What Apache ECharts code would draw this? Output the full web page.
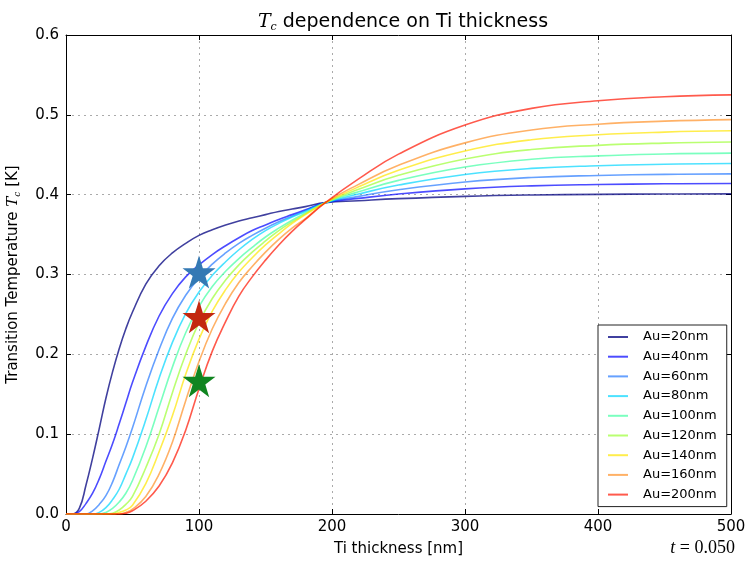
<!DOCTYPE html>
<html>
<head>
<meta charset="utf-8">
<script src="https://cdn.jsdelivr.net/npm/echarts@6/dist/echarts.min.js"></script>
<style>
html,body{margin:0;padding:0;background:#fff;}
#chart{width:745px;height:561px;}
</style>
</head>
<body>
<div id="chart"></div>
<script>
// Ti thickness grid [nm]
const thickness = [0,5,10,15,20,25,30,35,40,45,50,60,70,80,90,100,110,120,130,140,150,160,170,180,195,220,250,300,350,400,450,500];

// Tc [K] for each Au thickness
const au20  = [0,0,0.007,0.036,0.07,0.107,0.145,0.178,0.207,0.232,0.253,0.288,0.311,0.327,0.339,0.349,0.356,0.362,0.367,0.371,0.375,0.379,0.382,0.385,0.39,0.3924,0.395,0.3979,0.3996,0.4004,0.4008,0.401];
const au40  = [0,0,0.003,0.013,0.026,0.044,0.066,0.088,0.113,0.139,0.165,0.21,0.248,0.276,0.297,0.312,0.325,0.336,0.346,0.355,0.362,0.369,0.375,0.381,0.39,0.3953,0.4008,0.4073,0.411,0.4127,0.4136,0.414];
const au60  = [0,0,0,0,0.004,0.012,0.023,0.04,0.062,0.084,0.108,0.16,0.206,0.245,0.274,0.296,0.313,0.327,0.339,0.349,0.358,0.366,0.373,0.38,0.39,0.3979,0.4062,0.4159,0.4215,0.424,0.4254,0.426];
const au80  = [0,0,0,0,0,0.002,0.008,0.018,0.031,0.05,0.07,0.118,0.17,0.215,0.251,0.278,0.299,0.316,0.331,0.344,0.355,0.364,0.372,0.379,0.39,0.4008,0.412,0.4253,0.4329,0.4363,0.4381,0.439];
const au100 = [0,0,0,0,0,0,0.002,0.007,0.015,0.026,0.042,0.084,0.134,0.184,0.227,0.26,0.285,0.304,0.32,0.334,0.347,0.358,0.368,0.377,0.39,0.4036,0.4179,0.4346,0.4443,0.4486,0.4509,0.452];
const au120 = [0,0,0,0,0,0,0,0.001,0.005,0.012,0.022,0.058,0.1,0.152,0.2,0.24,0.27,0.293,0.312,0.328,0.342,0.355,0.366,0.376,0.39,0.4067,0.4242,0.4447,0.4565,0.4618,0.4646,0.466];
const au140 = [0,0,0,0,0,0,0,0,0.002,0.005,0.011,0.038,0.078,0.123,0.175,0.219,0.254,0.281,0.303,0.321,0.337,0.351,0.364,0.375,0.39,0.4098,0.4305,0.4548,0.4688,0.4751,0.4784,0.48];
const au160 = [0,0,0,0,0,0,0,0,0,0.002,0.006,0.022,0.05,0.09,0.142,0.191,0.232,0.264,0.29,0.31,0.328,0.344,0.358,0.37,0.39,0.4129,0.4368,0.4649,0.481,0.4883,0.4921,0.494];
const au200 = [0,0,0,0,0,0,0,0,0,0.001,0.004,0.016,0.035,0.064,0.105,0.157,0.204,0.241,0.273,0.297,0.318,0.337,0.354,0.369,0.39,0.4197,0.4508,0.4872,0.5081,0.5176,0.5226,0.525];

const seriesNames = ['Au=20nm','Au=40nm','Au=60nm','Au=80nm','Au=100nm','Au=120nm','Au=140nm','Au=160nm','Au=200nm'];
const seriesValues = [au20,au40,au60,au80,au100,au120,au140,au160,au200];
const seriesColors = ['rgba(0,0,127,0.75)','rgba(0,0,255,0.7)','rgba(0,99,255,0.6)','rgba(0,213,255,0.7)','rgba(77,255,169,0.75)','rgba(169,255,77,0.8)','rgba(255,229,0,0.7)','rgba(255,125,0,0.6)','rgba(255,20,0,0.7)'];

// star markers
const starX = [100,100,100];
const starY = [0.303,0.247,0.167];
const starColors = ['#3479b4','#c3280f','#108520'];

const xTicks = [0,100,200,300,400,500];
const yTicks = [0.0,0.1,0.2,0.3,0.4,0.5,0.6];

const FONT = 'DejaVu Sans';
const starPath = 'path://M50,0 L61.2,34.5 L97.6,34.5 L68.2,55.9 L79.4,90.5 L50,69.1 L20.6,90.5 L31.8,55.9 L2.4,34.5 L38.8,34.5 Z';

const lineSeries = seriesNames.map((name,i)=>({
  name: name,
  type: 'line',
  data: thickness.map((x,j)=>[x, seriesValues[i][j]]),
  showSymbol: false,
  symbol: 'none',
  smooth: 0.45,
  color: seriesColors[i],
  lineStyle: {width: 1.6, color: seriesColors[i]},
  z: 2 + i,
  animation: false
}));

const starSeries = starX.map((x,i)=>({
  type: 'scatter',
  data: [[x, starY[i]]],
  symbol: starPath,
  symbolSize: 33,
  itemStyle: {color: starColors[i], opacity: 1},
  z: 20,
  animation: false
}));

const axisCommon = {
  axisLine: {show: true, onZero: false, lineStyle: {color: '#000', width: 1}},
  axisTick: {show: true, inside: true, length: 5, lineStyle: {color: '#000'}},
};

const chart = echarts.init(document.getElementById('chart'), null, {renderer: 'canvas'});
chart.setOption({
  animation: false,
  backgroundColor: '#fff',
  title: {
    text: '{i|T}{s|c}{n| dependence on Ti thickness}',
    left: 398, top: 6, textAlign: 'center',
    textStyle: {
      fontWeight: 'normal',
      rich: {
        i: {fontFamily: 'DejaVu Serif', fontStyle: 'italic', fontWeight: 'normal', fontSize: 19, color: '#000', lineHeight: 22},
        s: {fontFamily: 'DejaVu Serif', fontStyle: 'italic', fontWeight: 'normal', fontSize: 11, color: '#000', lineHeight: 9, verticalAlign: 'bottom'},
        n: {fontFamily: FONT, fontWeight: 'normal', fontSize: 19, color: '#000', lineHeight: 22}
      }
    }
  },
  grid: {left: 66, top: 35, right: 14, bottom: 47, containLabel: false, outerBoundsMode: 'none'},
  legend: {
    orient: 'vertical',
    left: 598, top: 325,
    data: seriesNames,
    icon: 'rect',
    itemWidth: 20, itemHeight: 2,
    itemGap: 5.7,
    padding: [5, 10, 5, 10],
    borderColor: '#222', borderWidth: 1, borderRadius: 0,
    backgroundColor: '#fff',
    textStyle: {fontFamily: FONT, fontSize: 13, color: '#000', padding: [0,0,0,10], lineHeight: 14, height: 14}
  },
  xAxis: [
    Object.assign({
      type: 'value', min: 0, max: 500, interval: 100, position: 'bottom',
      splitLine: {show: true, lineStyle: {type: [2,4], color: '#aaa', width: 1}},
      axisLabel: {fontFamily: FONT, fontSize: 15, color: '#000', margin: 6},
      name: 'Ti thickness [nm]', nameLocation: 'middle', nameGap: 28,
      nameTextStyle: {fontFamily: FONT, fontSize: 15, color: '#000'}
    }, axisCommon),
    Object.assign({
      type: 'value', min: 0, max: 500, interval: 100, position: 'top',
      splitLine: {show: false}, axisLabel: {show: false}
    }, axisCommon)
  ],
  yAxis: [
    Object.assign({
      type: 'value', min: 0, max: 0.6, interval: 0.1, position: 'left',
      splitLine: {show: true, lineStyle: {type: [2,4], color: '#aaa', width: 1}},
      axisLabel: {fontFamily: FONT, fontSize: 15, color: '#000', margin: 7, formatter: v => v.toFixed(1)},
      name: '{n|Transition Temperature }{i|T}{s|c}{n| [K]}', nameLocation: 'middle', nameGap: 44, nameRotate: 90,
      nameTextStyle: {
        rich: {
          n: {fontFamily: FONT, fontSize: 15, color: '#000', lineHeight: 18},
          i: {fontFamily: 'DejaVu Serif', fontStyle: 'italic', fontSize: 15, color: '#000', lineHeight: 18},
          s: {fontFamily: 'DejaVu Serif', fontStyle: 'italic', fontSize: 9, color: '#000', lineHeight: 7, verticalAlign: 'bottom'}
        }
      }
    }, axisCommon),
    Object.assign({
      type: 'value', min: 0, max: 0.6, interval: 0.1, position: 'right',
      splitLine: {show: false}, axisLabel: {show: false}
    }, axisCommon)
  ],
  graphic: [
    {
      type: 'text', right: 10, top: 539,
      style: {
        text: '{i|t}{n| = 0.050}',
        rich: {
          i: {fontFamily: 'Liberation Serif', fontStyle: 'italic', fontSize: 18, fill: '#000'},
          n: {fontFamily: 'Liberation Serif', fontSize: 18, fill: '#000'}
        }
      }
    }
  ],
  series: lineSeries.concat(starSeries)
});
</script>
</body>
</html>
